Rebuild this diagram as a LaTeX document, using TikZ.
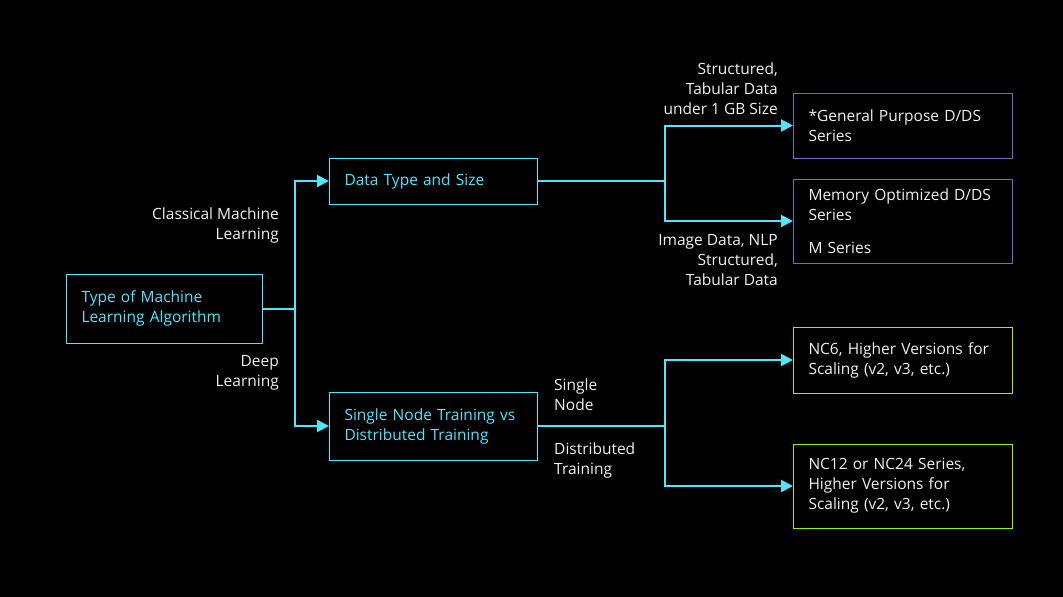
\documentclass[tikz,border=0pt]{standalone}
\usepackage{fontspec}
\setmainfont{Open Sans}
\usetikzlibrary{arrows.meta}
\definecolor{azcyan}{HTML}{50E6FF}
\definecolor{azpurple}{HTML}{8661C5}
\definecolor{azgreen}{HTML}{9BF00B}
\definecolor{lbltext}{HTML}{F2F2F2}
\begin{document}
\begin{tikzpicture}
% 1pt = 1px, y runs down
[x=1pt,y=-1pt,
 every node/.style={font=\fontsize{15.5}{20}\selectfont},
 box/.style={draw,line width=1pt,anchor=west,align=left,inner xsep=15pt,inner ysep=0pt,
   text width={#1-30pt},minimum width=#1,rectangle},
 toplevel/.style={box=196pt,draw=azcyan,text=azcyan},
 midlevel/.style={box=208pt,draw=azcyan,text=azcyan},
 vmbox/.style={box=219pt,text=lbltext},
 branchlbl/.style={text=lbltext,inner sep=0pt},
 link/.style={azcyan,line width=2pt},
 tolink/.style={link,-{Triangle[length=12pt,width=12pt]}}]
\fill[black] (0,0) rectangle (1063,597);
\useasboundingbox (0,0) rectangle (1063,597);
% first level
\node[toplevel,minimum height=69pt] (algo) at (66,308.5) {Type of Machine\\Learning Algorithm};
\node[midlevel,minimum height=46pt] (dtype) at (329,181) {Data Type and Size};
\node[midlevel,minimum height=68pt] (train) at (329,426) {Single Node Training vs\\Distributed Training};
% vm series, 793 = left edge
\node[vmbox,draw=azpurple,minimum height=65pt] (gp) at (793,125.5) {*General Purpose D/DS\\Series};
\node[vmbox,draw=azpurple,minimum height=84pt] (mo) at (793,221) {Memory Optimized D/DS\\Series\\[13pt]M Series};
\node[vmbox,draw=azgreen,minimum height=66pt] (nc6) at (793,360) {NC6, Higher Versions for\\Scaling (v2, v3, etc.)};
\node[vmbox,draw=azgreen,minimum height=84pt] (nc12) at (793,486) {NC12 or NC24 Series,\\Higher Versions for\\Scaling (v2, v3, etc.)};
% junctions
\coordinate (jalgo) at (295,308.5);
\coordinate (jdtype) at (665,181);
\coordinate (jtrain) at (665,426);
\draw[link] (algo.east) -- (jalgo);
\draw[tolink] (jalgo) |- (dtype.west);
\draw[tolink] (jalgo) |- (train.west);
\draw[link] (dtype.east) -- (jdtype);
\draw[tolink] (jdtype) |- (gp.west);
\draw[tolink] (jdtype) |- (mo.west);
\draw[link] (train.east) -- (jtrain);
\draw[tolink] (jtrain) |- (nc6.west);
\draw[tolink] (jtrain) |- (nc12.west);
% branch labels
\node[branchlbl,align=right,anchor=east] (lclass) at (279,225) {Classical Machine\\Learning};
\node[branchlbl,align=right,anchor=east] (ldeep) at (279,373) {Deep\\Learning};
\node[branchlbl,align=right,anchor=east] (lstruct) at (778,89) {Structured,\\Tabular Data\\under 1 GB Size};
\node[branchlbl,align=right,anchor=east] (limage) at (778,260) {Image Data, NLP\\Structured,\\Tabular Data};
\node[branchlbl,align=left,anchor=west] (lsingle) at (554,395) {Single\\Node};
\node[branchlbl,align=left,anchor=west] (ldist) at (554,460) {Distributed\\Training};
\end{tikzpicture}
\end{document}
